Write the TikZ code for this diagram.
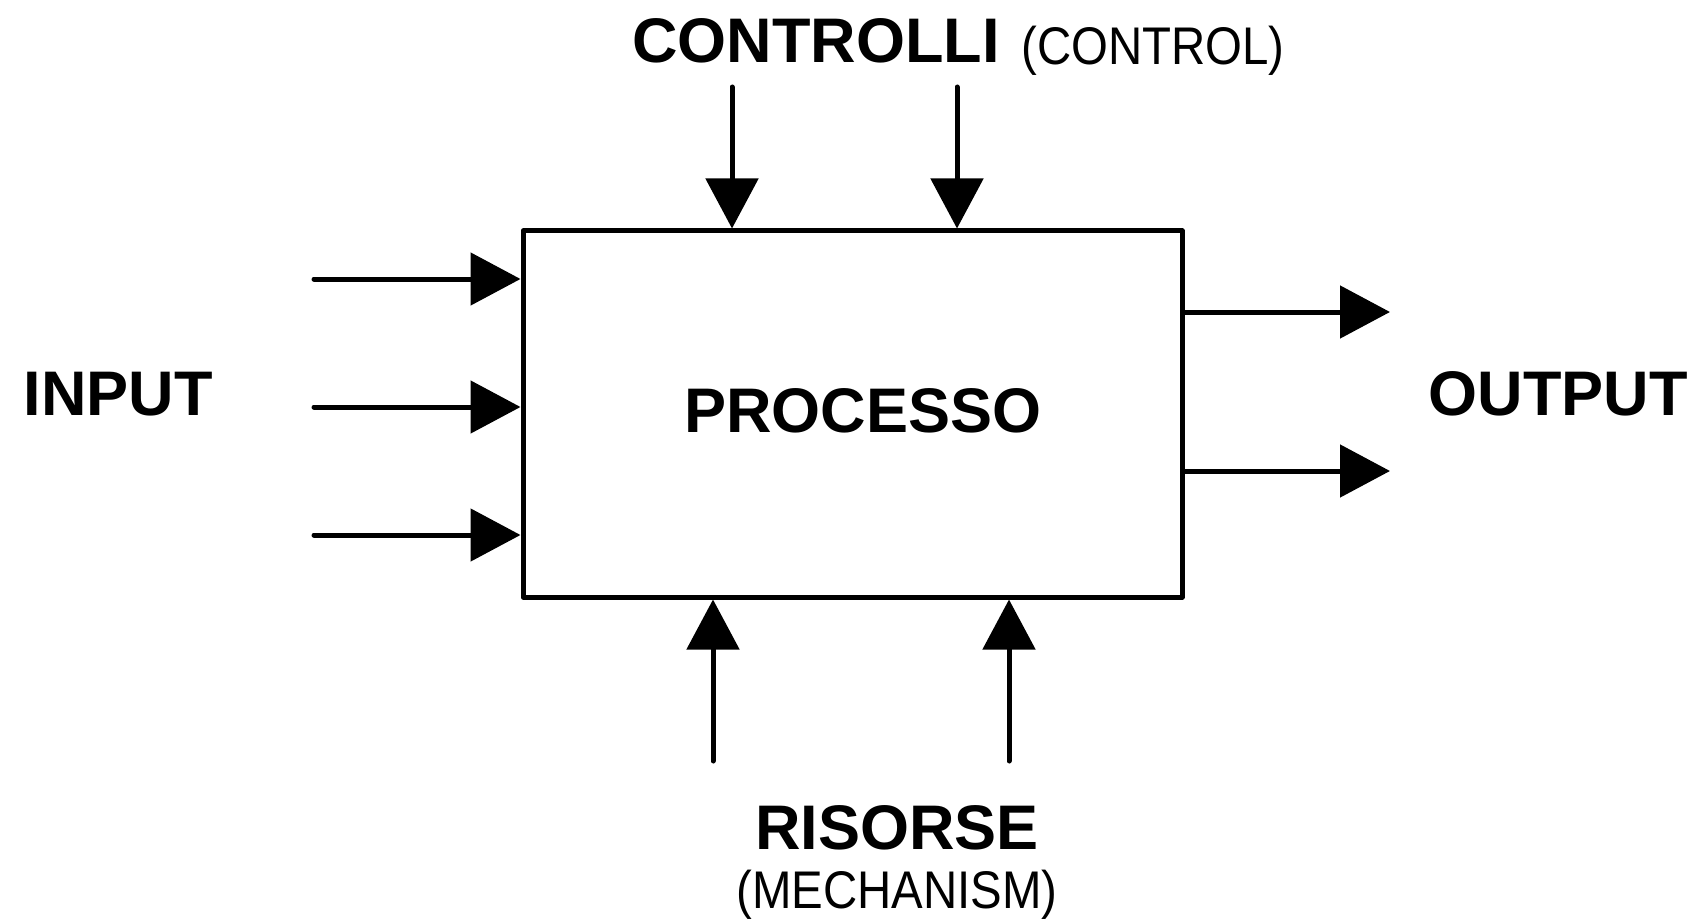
\documentclass[tikz,border=0pt]{standalone}
\usepackage{fontspec}
\setmainfont{Liberation Sans}
\usetikzlibrary{arrows.meta}
\begin{document}
\begin{tikzpicture}[x=1pt,y=-1pt,
  arr/.style={line width=5pt, line cap=round, -{Triangle[length=50pt,width=52pt]}},
  big/.style={font=\fontsize{63}{70}\selectfont\bfseries, inner sep=0pt, anchor=base},
  small/.style={font=\fontsize{53}{60}\selectfont, inner sep=0pt, anchor=base}]
\useasboundingbox (0,0) rectangle (1697,920);
\node[draw, line width=5pt, line join=round, minimum width=659pt, minimum height=366pt, inner sep=0pt] (proc) at (852.5,414) {};
\node[big] (ptext) at (863,432) {PROCESSO};
% inputs
\coordinate (i1) at (314,279);
\coordinate (i2) at (314,407);
\coordinate (i3) at (314,535);
\draw[arr] (i1) -- (i1 -| proc.west);
\draw[arr] (i2) -- (i2 -| proc.west);
\draw[arr] (i3) -- (i3 -| proc.west);
% controls
\coordinate (c1) at (732,87);
\coordinate (c2) at (957,87);
\draw[arr] (c1) -- (c1 |- proc.north);
\draw[arr] (c2) -- (c2 |- proc.north);
% outputs
\coordinate (o1) at (1390,312);
\coordinate (o2) at (1390,471);
\draw[arr, line cap=butt] (proc.east |- o1) -- (o1);
\draw[arr, line cap=butt] (proc.east |- o2) -- (o2);
% resources
\coordinate (r1) at (713,761);
\coordinate (r2) at (1009,761);
\draw[arr] (r1) -- (r1 |- proc.south);
\draw[arr] (r2) -- (r2 |- proc.south);
% labels
\node[big] (ctl) at (816,63) {CONTROLLI};
\node[small] (ctle) at (1153,65) {\scalebox{0.894}[1]{(CONTROL)}};
\node[big] (inp) at (118,415) {INPUT};
\node[big] (outp) at (1558,415) {OUTPUT};
\node[big] (ris) at (897,849) {RISORSE};
\node[small] (mech) at (897,908) {\scalebox{0.894}[1]{(MECHANISM)}};
\end{tikzpicture}
\end{document}
